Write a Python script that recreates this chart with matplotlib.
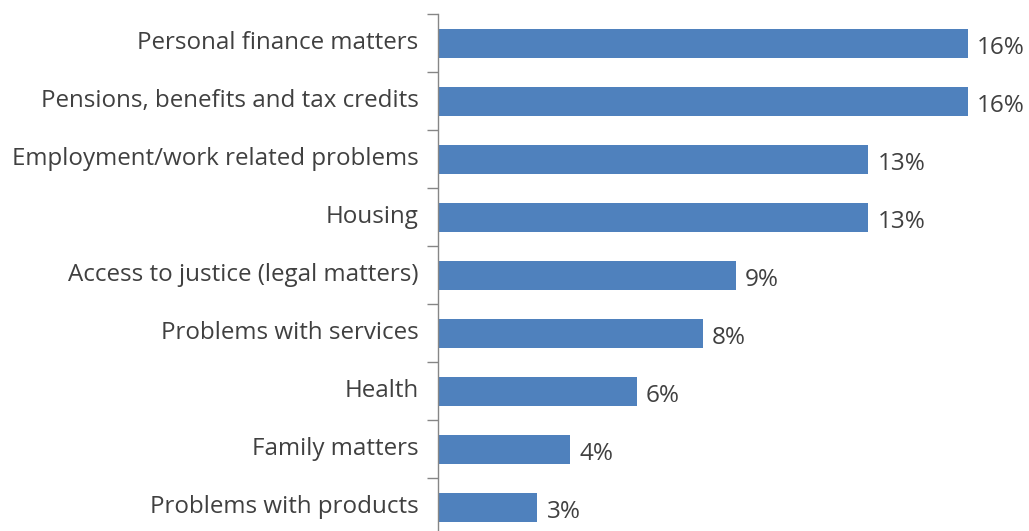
import matplotlib
matplotlib.use('Agg')
import matplotlib.pyplot as plt

# categories top to bottom, with their shares in percent
categories = [
    'Personal finance matters',
    'Pensions, benefits and tax credits',
    'Employment/work related problems',
    'Housing',
    'Access to justice (legal matters)',
    'Problems with services',
    'Health',
    'Family matters',
    'Problems with products',
]
shares = [16, 16, 13, 13, 9, 8, 6, 4, 3]

plt.rcParams['font.family'] = ['Open Sans', 'DejaVu Sans']

W, H = 1029, 531
fig = plt.figure(figsize=(W / 100, H / 100), dpi=100)
# axes placed in pixels; bottom row runs a little past the lower edge
left, top = 438, 14
row = 58
xscale = 33.1  # px per percent
xmax = 18
ax = fig.add_axes([left / W, 1 - (top + row * len(categories)) / H,
                   xscale * xmax / W, row * len(categories) / H])

y = list(range(len(categories)))
ax.barh(y, shares, height=0.5, color='#4F81BD')
ax.set_ylim(len(categories) - 0.5, -0.5)
ax.set_xlim(0, xmax)

for yi, v in zip(y, shares):
    ax.text(v + 0.28, yi + 0.08, f'{v}%', va='center', ha='left',
            fontsize=17.5, color='#404040')

ax.set_yticks(y)
ax.set_yticklabels(categories, fontsize=17.4, color='#404040',
                   va='center')
ax.set_yticks([i - 0.5 for i in range(len(categories) + 1)], minor=True)
ax.tick_params(axis='y', which='major', length=0, pad=14)
ax.tick_params(axis='y', which='minor', length=8, width=1, color='#868686')
ax.set_xticks([])

for s in ['top', 'right', 'bottom']:
    ax.spines[s].set_visible(False)
ax.spines['left'].set_color('#868686')
ax.spines['left'].set_linewidth(1)

fig.savefig('out.png', dpi=100)
